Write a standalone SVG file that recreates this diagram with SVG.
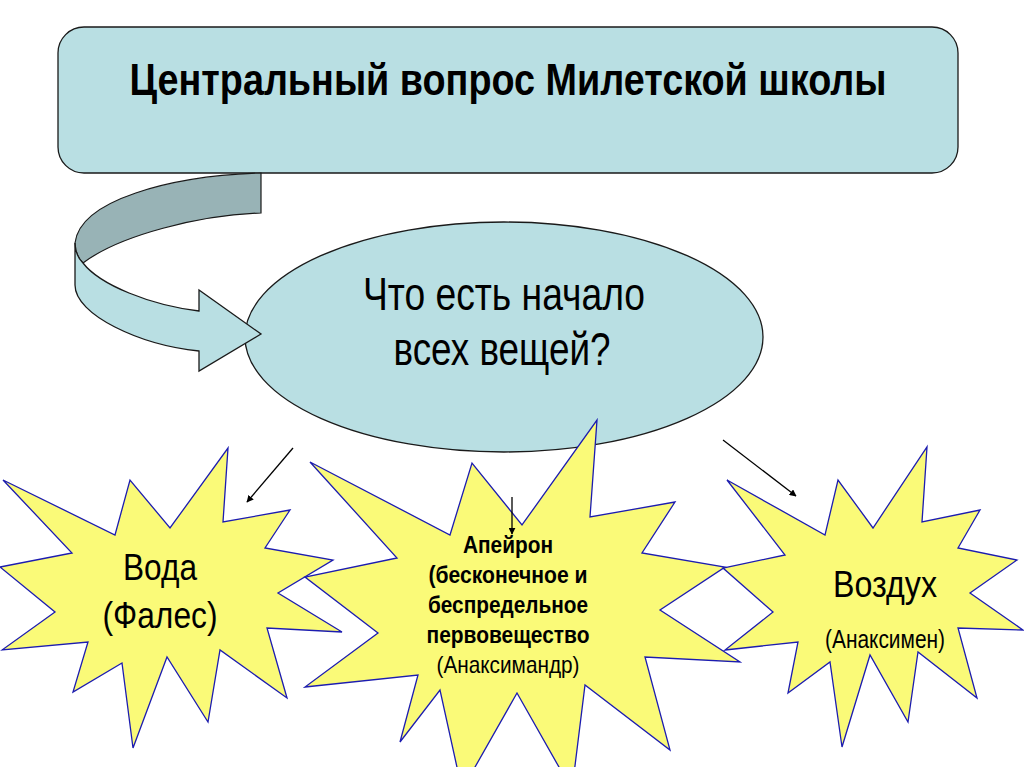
<svg xmlns="http://www.w3.org/2000/svg" width="1024" height="767" viewBox="0 0 1024 767">
<defs>
<style>
.blue{fill:#b9dfe3;stroke:#1a1a1a;stroke-width:1.3}
.dark{fill:#98b3b6;stroke:#1a1a1a;stroke-width:1.2}
.star{fill:#fafa78;stroke:#1c1cb0;stroke-width:1.3;stroke-linejoin:miter}
.t{font-family:"Liberation Sans",Arial,sans-serif;fill:#000;text-anchor:middle}
.b{font-weight:bold}
.conn{stroke:#000;stroke-width:1.3;fill:none}
</style>
<marker id="ah" viewBox="0 0 10 10" refX="9" refY="5" markerWidth="7" markerHeight="7" markerUnits="userSpaceOnUse" orient="auto">
<path d="M0,0 L10,5 L0,10 Z" fill="#000"/>
</marker>
</defs>
<rect width="1024" height="767" fill="#fff"/>

<g id="title">
<rect class="blue" x="58" y="27" width="900" height="146" rx="26" ry="26"/>
<text class="t b" x="508" y="95" font-size="45" textLength="757" lengthAdjust="spacingAndGlyphs">Центральный вопрос Милетской школы</text>
</g>

<g id="question">
<ellipse class="blue" cx="504" cy="337" rx="259" ry="115"/>
<text class="t" x="504" y="310" font-size="46" textLength="282" lengthAdjust="spacingAndGlyphs">Что есть начало</text>
<text class="t" x="502" y="365" font-size="46" textLength="217" lengthAdjust="spacingAndGlyphs">всех вещей?</text>
</g>

<g id="curved-arrow">
<path class="dark" d="M261,173 L261,213 C200,215 120,235 83,263 C78,258 75,250 75,243 C80,200 170,176 261,173 Z"/>
<path class="blue" d="M75,243 L75,285 C75,315 140,345 199,351 L199,371 L261,334 L199,290 L199,311 C150,305 100,285 83,263 C78,258 75,250 75,243 Z"/>
</g>

<g id="water">
<polygon class="star" points="3,480 115,535 130,480 170,528 228,448 223,522 290,510 265,548 333,560 278,593 342,632 267,628 287,698 220,650 208,722 167,657 133,748 122,663 73,692 88,642 2,650 55,612 0,567 72,553"/>
<text class="t" x="160" y="580" font-size="36" textLength="74" lengthAdjust="spacingAndGlyphs">Вода</text>
<text class="t" x="160" y="628" font-size="36" textLength="115" lengthAdjust="spacingAndGlyphs">(Фалес)</text>
</g>

<g id="apeiron">
<polygon class="star" points="310,462 450,535 472,463 522,525 597,420 590,517 675,502 642,553 725,567 660,610 740,662 645,657 670,750 585,685 572,790 517,693 462,790 440,690 400,742 418,675 305,687 378,633 305,577 397,558"/>
<text class="t b" x="508" y="553" font-size="24" textLength="90" lengthAdjust="spacingAndGlyphs">Апейрон</text>
<text class="t b" x="508" y="583" font-size="24" textLength="159" lengthAdjust="spacingAndGlyphs">(бесконечное и</text>
<text class="t b" x="508" y="613" font-size="24" textLength="160" lengthAdjust="spacingAndGlyphs">беспредельное</text>
<text class="t b" x="508" y="643" font-size="24" textLength="163" lengthAdjust="spacingAndGlyphs">первовещество</text>
<text class="t" x="508" y="673" font-size="24" textLength="143" lengthAdjust="spacingAndGlyphs">(Анаксимандр)</text>
</g>

<g id="air">
<polygon class="star" points="727,480 825,535 838,480 873,528 927,447 922,522 980,510 958,548 1017,560 970,593 1023,630 958,628 977,698 918,652 908,722 870,655 842,747 830,662 788,693 798,642 725,650 773,612 723,568 785,555"/>
<text class="t" x="885" y="597" font-size="36" textLength="104" lengthAdjust="spacingAndGlyphs">Воздух</text>
<text class="t" x="885" y="648" font-size="26" textLength="120" lengthAdjust="spacingAndGlyphs">(Анаксимен)</text>
</g>

<g id="connectors">
<line class="conn" x1="293" y1="448" x2="247" y2="502" marker-end="url(#ah)"/>
<line class="conn" x1="512" y1="497" x2="512" y2="534" marker-end="url(#ah)"/>
<line class="conn" x1="723" y1="440" x2="796" y2="496" marker-end="url(#ah)"/>
</g>
</svg>
